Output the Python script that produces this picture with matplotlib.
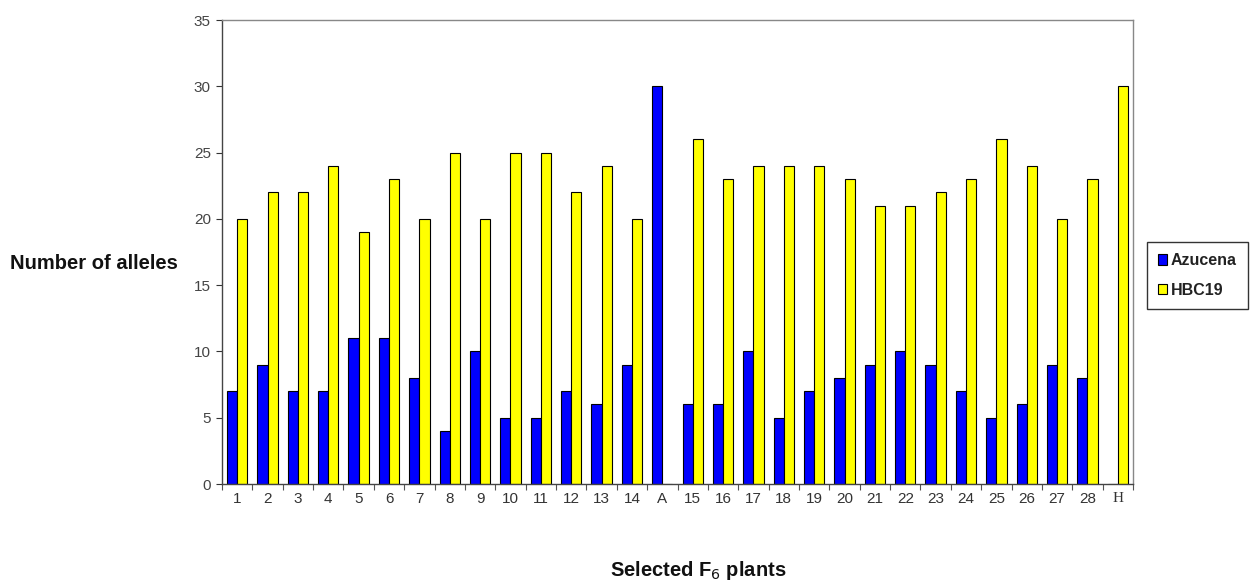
import matplotlib
matplotlib.use("Agg")
import matplotlib.pyplot as plt
import numpy as np
from matplotlib.ticker import FixedLocator

categories = ["1","2","3","4","5","6","7","8","9","10","11","12","13","14","A",
              "15","16","17","18","19","20","21","22","23","24","25","26","27","28","H"]
azucena = [7,9,7,7,11,11,8,4,10,5,5,7,6,9,30,6,6,10,5,7,8,9,10,9,7,5,6,9,8,0]
hbc19 = [20,22,22,24,19,23,20,25,20,25,25,22,24,20,0,26,23,24,24,24,23,21,21,22,23,26,24,20,23,30]

plt.rcParams['font.family'] = ['Liberation Sans', 'DejaVu Sans']

fig = plt.figure(figsize=(12.52, 5.85), dpi=100)
ax = fig.add_axes([222/1252, 1-484/585, (1133-222)/1252, (484-20)/585])

x = np.arange(len(categories))
w = 0.335
ax.bar(x - w/2, azucena, width=w, color='#0000FF', edgecolor='black', linewidth=0.8, label='Azucena')
ax.bar(x + w/2, hbc19, width=w, color='#FFFF00', edgecolor='black', linewidth=0.8, label='HBC19')

ax.set_xlim(-0.5, len(categories) - 0.5)
ax.set_ylim(0, 35)
ax.set_yticks(range(0, 36, 5))
ax.set_xticks(x)
ax.set_xticklabels(categories)
for lbl in ax.get_xticklabels():
    if lbl.get_text() == 'H':
        lbl.set_fontfamily(['Liberation Serif', 'DejaVu Serif'])
        lbl.set_fontsize(13)
ax.xaxis.set_minor_locator(FixedLocator(np.arange(-0.5, len(categories), 1)))
ax.tick_params(axis='x', which='major', length=0, pad=6, labelsize=11, colors='#333333')
ax.tick_params(axis='x', which='minor', length=4, width=0.8, color='#555555', direction='out')
ax.tick_params(axis='y', length=4, width=0.8, labelsize=11, colors='#333333', pad=4)
for lbl in ax.get_yticklabels():
    lbl.set_color('#444444')

for s in ['top', 'right']:
    ax.spines[s].set_color('#888888')
    ax.spines[s].set_linewidth(1.0)
for s in ['left', 'bottom']:
    ax.spines[s].set_color('#444444')
    ax.spines[s].set_linewidth(1.0)

fig.text(10/1252, 1-264/585, 'Number of alleles', fontsize=14.5, fontweight='bold',
         ha='left', va='center', color='#111111')
fig.text(698/1252, 1-571/585, 'Selected F$_6$ plants', fontsize=14.5, fontweight='bold',
         ha='center', va='center', color='#111111')

leg = ax.legend(loc='upper left', bbox_to_anchor=(1147/1252, 1-242/585), bbox_transform=fig.transFigure,
                frameon=True, fancybox=False, edgecolor='black',
                handlelength=0.55, handleheight=0.6, handletextpad=0.25, borderpad=0.7,
                borderaxespad=0, labelspacing=0.9, prop={'weight': 'bold', 'size': 11.5})
leg.get_frame().set_linewidth(1.0)
for t in leg.get_texts():
    t.set_color('#222222')

fig.savefig('out.png', dpi=100)
